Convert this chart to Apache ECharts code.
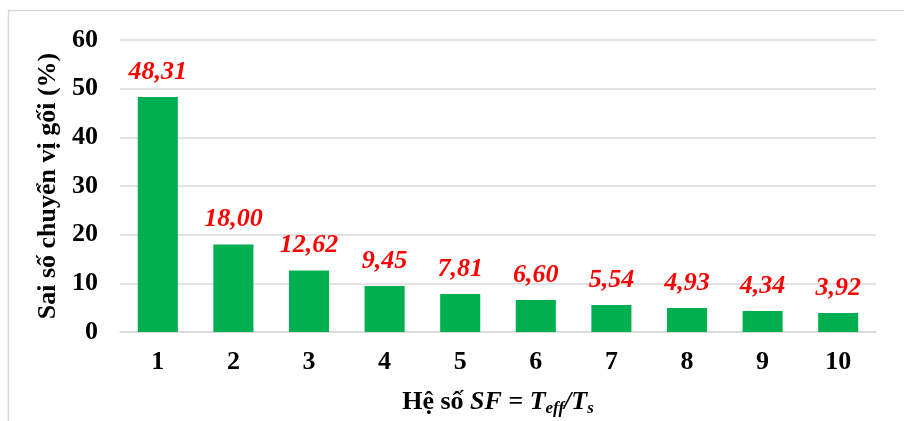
<!DOCTYPE html>
<html>
<head>
<meta charset="utf-8">
<script src="https://cdn.jsdelivr.net/npm/echarts@6/dist/echarts.min.js"></script>
<style>
  html, body { margin: 0; padding: 0; background: #fff; }
  #chart { width: 904px; height: 421px; }
</style>
</head>
<body>
<div id="chart"></div>
<script>
// Scale factor SF = T_eff / T_s and the bearing displacement error for each
const categories = ['1', '2', '3', '4', '5', '6', '7', '8', '9', '10'];
const errorValues = [48.31, 18.00, 12.62, 9.45, 7.81, 6.60, 5.54, 4.93, 4.34, 3.92];
const yTicks = { min: 0, max: 60, interval: 10 };

const FONT = '"Liberation Serif", "Times New Roman", serif';

const chart = echarts.init(document.getElementById('chart'));
chart.setOption({
  animation: false,
  backgroundColor: '#ffffff',
  graphic: [{
    type: 'rect',
    shape: { x: 8.5, y: 10.5, width: 1000, height: 1000 },
    style: { fill: 'none', stroke: '#d9d9d9', lineWidth: 1.5 },
    silent: true
  }],
  grid: { left: 120, right: 28, top: 40, bottom: 89, containLabel: false, outerBoundsMode: 'none' },
  xAxis: {
    type: 'category',
    data: categories,
    axisTick: { show: false },
    axisLine: { show: true, lineStyle: { color: '#d9d9d9', width: 1.5 } },
    axisLabel: {
      fontFamily: FONT, fontWeight: 'bold', fontSize: 26, color: '#000', margin: 17
    },
    name: '{n|Hệ số }{i|SF = T}{sub|eff}{i|/T}{sub|s}',
    nameLocation: 'middle',
    nameGap: 56,
    nameTextStyle: {
      rich: {
        n: { fontFamily: FONT, fontWeight: 'bold', fontSize: 26, color: '#000' },
        i: { fontFamily: FONT, fontWeight: 'bold', fontStyle: 'italic', fontSize: 26, color: '#000' },
        sub: { fontFamily: FONT, fontWeight: 'bold', fontStyle: 'italic', fontSize: 17, color: '#000', verticalAlign: 'bottom', padding: [12, 0, 0, 0] }
      }
    }
  },
  yAxis: {
    type: 'value',
    min: yTicks.min,
    max: yTicks.max,
    interval: yTicks.interval,
    axisLine: { show: false },
    axisTick: { show: false },
    splitLine: { lineStyle: { color: '#d9d9d9', width: 1.5 } },
    axisLabel: {
      fontFamily: FONT, fontWeight: 'bold', fontSize: 26, color: '#000', margin: 22
    },
    name: 'Sai số chuyển vị gối (%)',
    nameLocation: 'middle',
    nameGap: 58,
    nameTextStyle: { fontFamily: FONT, fontWeight: 'bold', fontSize: 26, color: '#000' }
  },
  series: [{
    type: 'bar',
    data: errorValues,
    barWidth: '53%',
    itemStyle: { color: '#00b050' },
    label: {
      show: true,
      position: 'top',
      distance: 12,
      fontFamily: FONT,
      fontWeight: 'bold',
      fontStyle: 'italic',
      fontSize: 26,
      color: '#ff0000',
      formatter: p => p.value.toFixed(2).replace('.', ',')
    }
  }]
});
</script>
</body>
</html>
